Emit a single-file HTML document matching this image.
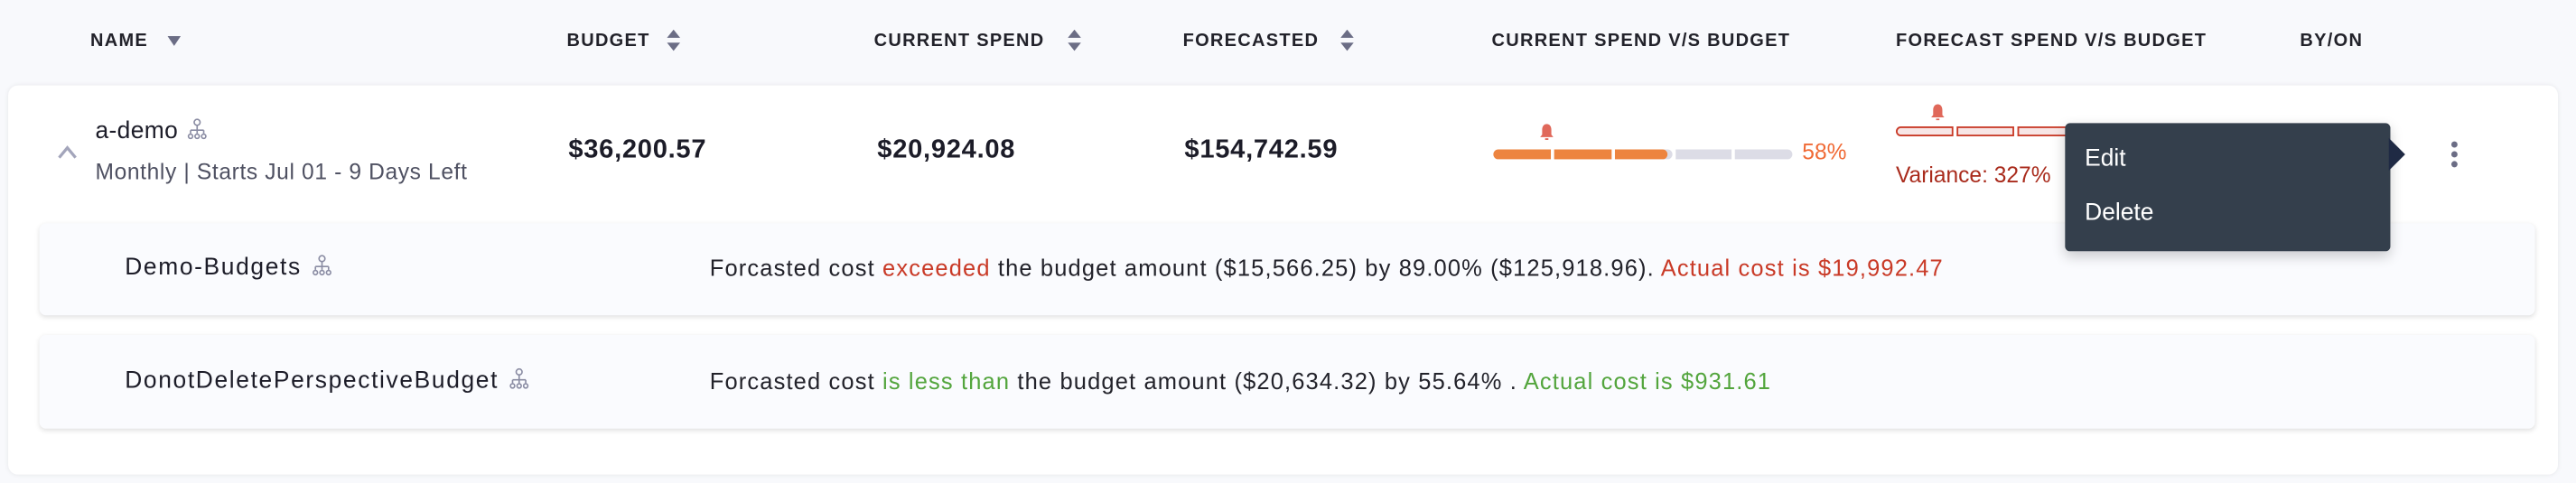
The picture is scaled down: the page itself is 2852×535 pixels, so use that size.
<!DOCTYPE html>
<html><head><meta charset="utf-8"><style>
html,body{margin:0;padding:0;}
body{width:2852px;height:534px;overflow:hidden;background:#f8f9fc;font-family:"Liberation Sans",sans-serif;}
#w{position:absolute;left:0;top:0;width:1568px;height:294px;transform:scale(1.81888);transform-origin:0 0;}
.a{position:absolute;white-space:nowrap;}
.h{font-size:11px;font-weight:bold;color:#22222a;top:19px;letter-spacing:0.7px}
.sort{position:absolute;width:8px;height:14px;}
.card{position:absolute;left:5px;top:52px;width:1552px;height:237px;background:#fff;border-radius:6px;box-shadow:0 0 3px rgba(0,0,0,0.08);}
.sub{position:absolute;left:24px;width:1519px;background:#fafbfe;border-radius:4px;box-shadow:0 1px 3px rgba(0,0,0,0.12);}
.t14{font-size:14.5px;color:#1c1c28;letter-spacing:0.2px}
.sn{letter-spacing:0.9px}
.msg{font-size:14px;color:#22222a;letter-spacing:0.63px}
.red{color:#c93a27}.grn{color:#53a53d}
.seg{position:absolute;top:0;height:6px;}
.val{font-size:16px;font-weight:bold;color:#1c1c28;top:83px;letter-spacing:0.4px}
.ic{display:inline-block;vertical-align:middle;margin-left:6px;position:relative;top:-2px}
</style></head><body><div id="w">
<div class="a h" style="left:55px">NAME</div>
<svg class="sort" style="left:102px;top:20px" viewBox="0 0 8 14"><path d="M0 2h8L4 8z" fill="#6b6d85"/></svg>
<div class="a h" style="left:345px">BUDGET</div>
<svg class="sort" style="left:406px;top:18px" viewBox="0 0 8 14"><path d="M4 0L8 5H0z M0 8h8L4 13z" fill="#6b6d85"/></svg>
<div class="a h" style="left:532px">CURRENT SPEND</div>
<svg class="sort" style="left:650px;top:18px" viewBox="0 0 8 14"><path d="M4 0L8 5H0z M0 8h8L4 13z" fill="#6b6d85"/></svg>
<div class="a h" style="left:720px">FORECASTED</div>
<svg class="sort" style="left:816px;top:18px" viewBox="0 0 8 14"><path d="M4 0L8 5H0z M0 8h8L4 13z" fill="#6b6d85"/></svg>
<div class="a h" style="left:908px">CURRENT SPEND V/S BUDGET</div>
<div class="a h" style="left:1154px">FORECAST SPEND V/S BUDGET</div>
<div class="a h" style="left:1400px">BY/ON</div>

<div class="card"></div>
<svg class="a" style="left:35px;top:88px" width="12" height="10" viewBox="0 0 12 10"><path d="M1 8L6 2l5 6" stroke="#a3a5bb" stroke-width="1.8" fill="none"/></svg>
<div class="a t14" style="left:58px;top:72px">a-demo<svg class="ic" width="12" height="13" viewBox="0 0 12 13"><g stroke="#8a8ca3" fill="none" stroke-width="0.9"><circle cx="6" cy="2.5" r="1.8"/><path d="M6 4.3v3M2 7.3h8M2 7.3v2M6 7.3v2M10 7.3v2"/><circle cx="2" cy="11" r="1.3"/><circle cx="6" cy="11" r="1.3"/><circle cx="10" cy="11" r="1.3"/></g></svg></div>
<div class="a" style="left:58px;top:97px;font-size:13.5px;color:#4f5162;letter-spacing:0.35px">Monthly | Starts Jul 01 - 9 Days Left</div>
<div class="a val" style="left:346px">$36,200.57</div>
<div class="a val" style="left:534px">$20,924.08</div>
<div class="a val" style="left:721px">$154,742.59</div>

<svg class="a" style="left:937px;top:75px" width="9" height="11" viewBox="0 0 9 11"><path d="M4.5 0.5c-1.8 0-2.8 1.5-2.8 3.5v3L0.5 8.5h8L7.3 7V4c0-2-1-3.5-2.8-3.5z M3.5 9.2h2v1h-2z" fill="#e0685a"/></svg>
<div class="a" style="left:909px;top:91px;width:182px;height:6px;">
<div class="seg" style="left:0;width:35px;background:#ed843f;border-radius:3px 0 0 3px"></div>
<div class="seg" style="left:37px;width:35px;background:#ed843f"></div>
<div class="seg" style="left:74px;width:35px;background:#dcdce6;border-radius:0 3px 3px 0"></div>
<div class="seg" style="left:74px;width:32px;background:#ed843f;border-radius:0 3px 3px 0"></div>
<div class="seg" style="left:111px;width:34px;background:#dcdce6"></div>
<div class="seg" style="left:147px;width:35px;background:#dcdce6;border-radius:0 3px 3px 0"></div>
</div>
<div class="a" style="left:1097px;top:85px;font-size:13.5px;color:#f06a35">58%</div>

<svg class="a" style="left:1175px;top:63px" width="9" height="11" viewBox="0 0 9 11"><path d="M4.5 0.5c-1.8 0-2.8 1.5-2.8 3.5v3L0.5 8.5h8L7.3 7V4c0-2-1-3.5-2.8-3.5z M3.5 9.2h2v1h-2z" fill="#e0685a"/></svg>
<div class="a" style="left:1154px;top:77px;width:110px;height:6px;">
<div class="seg" style="left:0;width:35px;background:#f7e6e6;border:0.7px solid #c93a27;border-radius:3px 0 0 3px;box-sizing:border-box"></div>
<div class="seg" style="left:37px;width:35px;background:#f7e6e6;border:0.7px solid #c93a27;box-sizing:border-box"></div>
<div class="seg" style="left:74px;width:35px;background:#f7e6e6;border:0.7px solid #c93a27;box-sizing:border-box"></div>
</div>
<div class="a" style="left:1154px;top:99px;font-size:13.5px;color:#a92b1c">Variance: 327%</div>

<div class="sub" style="top:136px;height:56px"></div>
<div class="a t14 sn" style="left:76px;top:155px">Demo-Budgets<svg class="ic" width="12" height="13" viewBox="0 0 12 13"><g stroke="#8a8ca3" fill="none" stroke-width="0.9"><circle cx="6" cy="2.5" r="1.8"/><path d="M6 4.3v3M2 7.3h8M2 7.3v2M6 7.3v2M10 7.3v2"/><circle cx="2" cy="11" r="1.3"/><circle cx="6" cy="11" r="1.3"/><circle cx="10" cy="11" r="1.3"/></g></svg></div>
<div class="a msg" style="left:432px;top:155px">Forcasted cost <span class="red">exceeded</span> the budget amount ($15,566.25) by 89.00% ($125,918.96). <span class="red">Actual cost is $19,992.47</span></div>

<div class="sub" style="top:204px;height:57px"></div>
<div class="a t14 sn" style="left:76px;top:224px">DonotDeletePerspectiveBudget<svg class="ic" width="12" height="13" viewBox="0 0 12 13"><g stroke="#8a8ca3" fill="none" stroke-width="0.9"><circle cx="6" cy="2.5" r="1.8"/><path d="M6 4.3v3M2 7.3h8M2 7.3v2M6 7.3v2M10 7.3v2"/><circle cx="2" cy="11" r="1.3"/><circle cx="6" cy="11" r="1.3"/><circle cx="10" cy="11" r="1.3"/></g></svg></div>
<div class="a msg" style="left:432px;top:224px">Forcasted cost <span class="grn">is less than</span> the budget amount ($20,634.32) by 55.64% . <span class="grn">Actual cost is $931.61</span></div>

<div class="a" style="left:1257px;top:75px;width:198px;height:78px;background:#343f4c;border-radius:3px;box-shadow:0 3px 8px rgba(0,0,0,0.2);z-index:5"></div>
<svg class="a" style="left:1454px;top:84px;z-index:5" width="13" height="20" viewBox="0 0 13 20"><path d="M0 0L10 10L0 20z" fill="#1f2a44"/></svg>
<div class="a" style="left:1269px;top:89px;font-size:14.5px;color:#fff;z-index:6">Edit</div>
<div class="a" style="left:1269px;top:122px;font-size:14.5px;color:#fff;z-index:6">Delete</div>
<svg class="a" style="left:1490px;top:85px" width="8" height="18" viewBox="0 0 8 18"><circle cx="4" cy="3" r="1.9" fill="#6b6d85"/><circle cx="4" cy="9" r="1.9" fill="#6b6d85"/><circle cx="4" cy="15" r="1.9" fill="#6b6d85"/></svg>
</div></body></html>
